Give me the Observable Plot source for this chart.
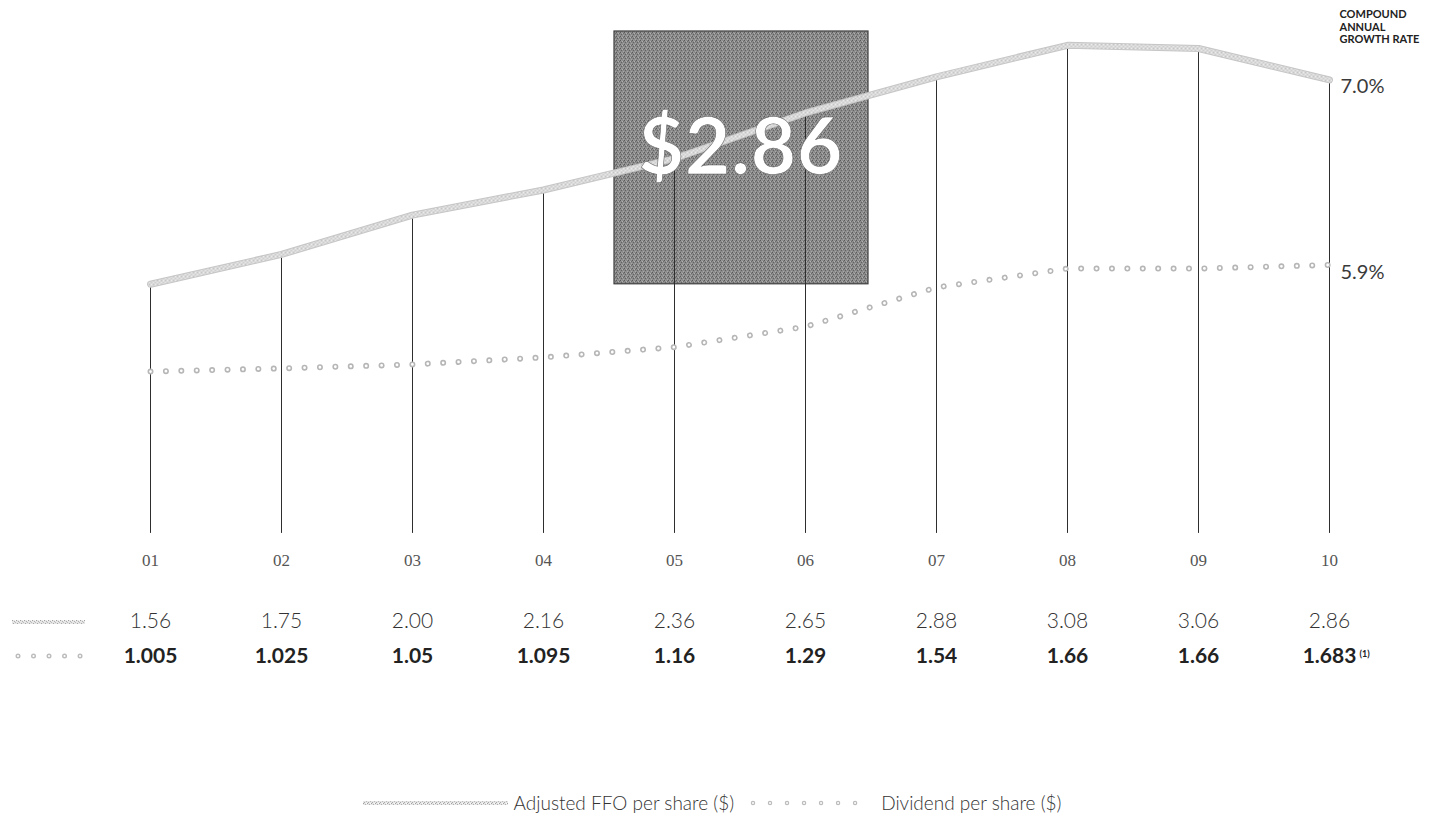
<!DOCTYPE html>
<html>
<head>
<meta charset="utf-8">
<script src="https://cdn.jsdelivr.net/npm/d3@7"></script>
<script src="https://cdn.jsdelivr.net/npm/@observablehq/plot@0.6"></script>
<style>
  html, body { margin: 0; padding: 0; background: #fff; }
  body { font-family: Lato, "Open Sans", sans-serif; color: #333; }
  #chart { width: 1440px; }
  .legend {
    display: flex; justify-content: center; align-items: center;
    margin-top: 22px; height: 22px; line-height: 22px;
    font-size: 19px; font-weight: 300; color: #333;
  }
  .legend svg { display: block; }
  .legend .label { margin: 0 16px 0 6px; }
</style>
</head>
<body>
<!-- shared grain textures for the FFO band and the highlight box -->
<svg width="0" height="0" style="position:absolute">
  <defs>
    <pattern id="grain-light" width="4" height="4" patternUnits="userSpaceOnUse">
      <rect width="4" height="4" fill="#e6e6e6"/>
      <rect x="0" y="0" width="1" height="1" fill="#a0a0a0"/>
      <rect x="2" y="1" width="1" height="1" fill="#b0b0b0"/>
      <rect x="1" y="3" width="1" height="1" fill="#a8a8a8"/>
      <rect x="3" y="2" width="1" height="1" fill="#bababa"/>
      <rect x="3" y="0" width="1" height="1" fill="#fafafa"/>
    </pattern>
    <pattern id="grain-dark" width="4" height="4" patternUnits="userSpaceOnUse">
      <rect width="4" height="4" fill="#8a8a8a"/>
      <rect x="0" y="0" width="1" height="1" fill="#5a5a5a"/>
      <rect x="2" y="1" width="1" height="1" fill="#b2b2b2"/>
      <rect x="1" y="2" width="1" height="1" fill="#626262"/>
      <rect x="3" y="3" width="1" height="1" fill="#a8a8a8"/>
      <rect x="1" y="0" width="1" height="1" fill="#9c9c9c"/>
      <rect x="3" y="1" width="1" height="1" fill="#6c6c6c"/>
    </pattern>
  </defs>
</svg>

<div id="chart"></div>
<div class="legend">
  <svg width="145" height="8"><line x1="0" x2="145" y1="4" y2="4" stroke="url(#grain-light)" stroke-width="4"/></svg>
  <span class="label">Adjusted FFO per share ($)</span>
  <svg width="125" height="8"><line x1="3" x2="122" y1="4" y2="4" stroke="#bcbcbc" stroke-width="4.5" stroke-linecap="round" stroke-dasharray="0.01 17"/><line x1="3" x2="122" y1="4" y2="4" stroke="#fff" stroke-width="2" stroke-linecap="round" stroke-dasharray="0.01 17"/></svg>
  <span class="label">Dividend per share ($)</span>
</div>

<script>
// Fiscal years shown along the bottom
const years = ["01", "02", "03", "04", "05", "06", "07", "08", "09", "10"];

// Adjusted FFO per share ($)
const ffo = [1.56, 1.75, 2.00, 2.16, 2.36, 2.65, 2.88, 3.08, 3.06, 2.86];
const ffoLabels = ["1.56", "1.75", "2.00", "2.16", "2.36", "2.65", "2.88", "3.08", "3.06", "2.86"];

// Dividend per share ($)
const dividend = [1.005, 1.025, 1.05, 1.095, 1.16, 1.29, 1.54, 1.66, 1.66, 1.683];
const dividendLabels = ["1.005", "1.025", "1.05", "1.095", "1.16", "1.29", "1.54", "1.66", "1.66", "1.683"];
const dividendNotes = ["", "", "", "", "", "", "", "", "", "(1)"];

// Compound annual growth rates
const cagrTitle = "COMPOUND\nANNUAL\nGROWTH RATE";
const cagrFfo = "7.0%";
const cagrDividend = "5.9%";

// Highlighted span for the latest FFO figure
const highlightYears = ["05", "06"];

const rows = years.map((year, i) => ({
  year,
  ffo: ffo[i],
  ffoLabel: ffoLabels[i],
  dividend: dividend[i],
  dividendLabel: dividendLabels[i],
  note: dividendNotes[i]
}));
const last = rows[rows.length - 1];
const highlightLabel = "$" + d3.format(".2f")(last.ffo);

const W = 1440, H = 770;

// dark grained square behind the headline figure
function highlightBox(index, scales, values, dims) {
  const x0 = scales.x(highlightYears[0]) - 60;
  const x1 = scales.x(highlightYears[1]) + 63;
  const y0 = dims.marginTop + 5;
  const y1 = scales.y(ffo[0]);
  return d3.create("svg:rect")
    .attr("x", x0).attr("y", y0)
    .attr("width", x1 - x0).attr("height", y1 - y0)
    .attr("fill", "url(#grain-dark)")
    .attr("stroke", "#3c3c3c").attr("stroke-width", 1.2)
    .node();
}

// headline figure centred over the square
function highlightText(index, scales, values, dims) {
  const x0 = scales.x(highlightYears[0]) - 60;
  const x1 = scales.x(highlightYears[1]) + 63;
  return d3.create("svg:text")
    .attr("x", (x0 + x1) / 2)
    .attr("y", dims.marginTop + 148)
    .attr("text-anchor", "middle")
    .attr("fill", "#ffffff")
    .attr("font-family", "Lato, sans-serif")
    .attr("font-size", 78)
    .attr("font-weight", 700)
    .attr("letter-spacing", 1)
    .attr("stroke", "#6a6a6a").attr("stroke-width", 0.6)
    .text(highlightLabel)
    .node();
}

// small line keys at the start of the two value rows
function rowKeys(index, scales, values, dims) {
  const base = dims.height - dims.marginBottom;
  const g = d3.create("svg:g");
  g.append("line")
    .attr("x1", 12).attr("x2", 85)
    .attr("y1", base + 93).attr("y2", base + 93)
    .attr("stroke", "url(#grain-light)").attr("stroke-width", 4);
  for (const [color, width] of [["#bcbcbc", 5], ["#fff", 2.2]]) {
    g.append("line")
      .attr("x1", 18).attr("x2", 82)
      .attr("y1", base + 127).attr("y2", base + 127)
      .attr("stroke", color).attr("stroke-width", width)
      .attr("stroke-linecap", "round")
      .attr("stroke-dasharray", "0.01 15.5");
  }
  return g.node();
}

const chart = Plot.plot({
  width: W,
  height: H,
  marginLeft: 148,
  marginRight: 110,
  marginTop: 26,
  marginBottom: 241,
  style: { fontFamily: "Lato, 'Open Sans', sans-serif", background: "transparent", overflow: "visible" },
  x: { type: "point", domain: years, padding: 0, axis: null },
  y: { domain: [0, 3.2], axis: null },
  marks: [
    highlightBox,

    // vertical drop lines from each FFO point
    Plot.ruleX(rows, { x: "year", y1: () => -0.025, y2: "ffo", stroke: "#2e2e2e", strokeWidth: 1 }),

    // dividend: open dotted line
    Plot.line(rows, { x: "year", y: "dividend", stroke: "#b6b6b6", strokeWidth: 6, strokeLinecap: "round", strokeDasharray: "0.01 15.4" }),
    Plot.line(rows, { x: "year", y: "dividend", stroke: "#ffffff", strokeWidth: 2.8, strokeLinecap: "round", strokeDasharray: "0.01 15.4" }),

    // adjusted FFO: grained band
    Plot.line(rows, { x: "year", y: "ffo", stroke: "#c6c6c6", strokeWidth: 7 }),
    Plot.line(rows, { x: "year", y: "ffo", stroke: "url(#grain-light)", strokeWidth: 5 }),

    highlightText,

    // growth-rate annotations at the end of each series
    Plot.text([last], { x: "year", frameAnchor: "top", text: () => cagrTitle, textAnchor: "start", lineAnchor: "top", dx: 10, dy: -17, fontSize: 11, fontWeight: 700, lineHeight: 1.12, letterSpacing: 0.6, fill: "#222" }),
    Plot.text([last], { x: "year", y: "ffo", text: () => cagrFfo, textAnchor: "start", dx: 11, dy: 7, fontSize: 20, fill: "#3a3a3a", fontWeight: 400, letterSpacing: 1 }),
    Plot.text([last], { x: "year", y: "dividend", text: () => cagrDividend, textAnchor: "start", dx: 11, dy: 8, fontSize: 20, fill: "#3a3a3a", fontWeight: 400, letterSpacing: 1 }),

    // year labels
    Plot.text(rows, { x: "year", frameAnchor: "bottom", text: "year", dy: 36, fontSize: 17, fontFamily: "'Liberation Serif', 'DejaVu Serif', serif", fill: "#555", fontVariant: "oldstyle-nums", letterSpacing: 2 }),

    // value rows
    Plot.text(rows, { x: "year", frameAnchor: "bottom", text: "ffoLabel", dy: 98, fontSize: 21, fontWeight: 300, fill: "#333" }),
    Plot.text(rows, { x: "year", frameAnchor: "bottom", text: "dividendLabel", dy: 133, fontSize: 21, fontWeight: 700, fill: "#222" }),
    Plot.text(rows.filter(d => d.note), { x: "year", frameAnchor: "bottom", text: "note", dy: 127, dx: 30, textAnchor: "start", fontSize: 9, fontWeight: 700, fill: "#222" }),

    rowKeys
  ]
});

document.getElementById("chart").append(chart);
</script>
</body>
</html>
